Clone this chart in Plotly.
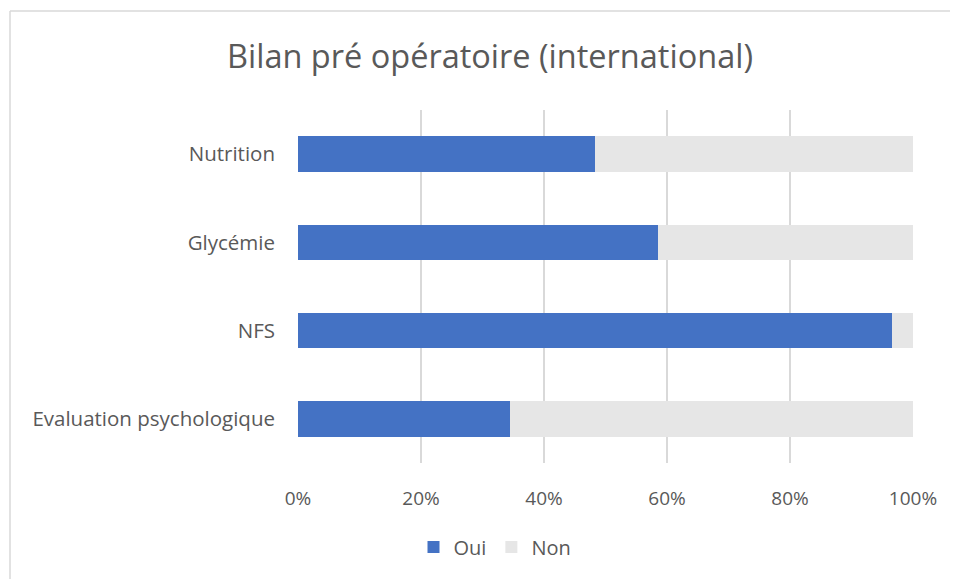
import plotly.graph_objects as go

categories = ["Evaluation psychologique", "NFS", "Glycémie", "Nutrition"]
oui = [34.5, 96.6, 58.6, 48.3]
non = [65.5, 3.4, 41.4, 51.7]
tick_vals = [0, 20, 40, 60, 80, 100]
tick_text = ["0%", "20%", "40%", "60%", "80%", "100%"]

FONT = "Open Sans"
W, H = 950, 571
L, T, PW, PH = 290, 102, 615, 353
fig = go.Figure()
fig.add_trace(go.Bar(y=categories, x=oui, name="Oui", orientation="h",
                     marker=dict(color="#4472C4", line=dict(width=0))))
fig.add_trace(go.Bar(y=categories, x=non, name="Non", orientation="h",
                     marker=dict(color="#E6E6E6", line=dict(width=0))))

bx0 = (2 - L) / PW
by1 = 1 + (T - 3) / PH
fig.update_layout(
    width=W, height=H,
    barmode="stack", bargap=0.6,
    paper_bgcolor="white", plot_bgcolor="white",
    margin=dict(l=L, r=W - L - PW, t=T, b=H - T - PH, autoexpand=False),
    font=dict(family=FONT, color="#595959", size=19),
    title=dict(text="Bilan pré opératoire (international)", x=482 / W, xref="container",
               xanchor="center", y=1 - 49 / H, yref="container", yanchor="middle",
               font=dict(family=FONT, size=32.5, color="#595959")),
    xaxis=dict(range=[0, 100], tickvals=tick_vals, ticktext=tick_text,
               showgrid=True, gridcolor="#D9D9D9", gridwidth=2, zeroline=False,
               showline=False, ticks="", ticklabelstandoff=22,
               tickfont=dict(size=19, color="#595959")),
    yaxis=dict(showgrid=False, showline=False, ticks="", ticklabelstandoff=22,
               tickfont=dict(size=20.5, color="#595959")),
    legend=dict(orientation="h", x=487 / W, xref="container", xanchor="center",
                y=1 - 539 / H, yref="container", yanchor="middle",
                font=dict(size=20, color="#595959"), traceorder="normal",
                itemwidth=30),
    shapes=[
        dict(type="line", xref="paper", yref="paper", x0=bx0, x1=1.2, y0=by1, y1=by1,
             line=dict(color="#D9D9D9", width=1.5), layer="below"),
        dict(type="line", xref="paper", yref="paper", x0=bx0, x1=bx0, y0=by1, y1=-1,
             line=dict(color="#D9D9D9", width=1.5), layer="below"),
    ],
)
fig.write_html("out.html")
